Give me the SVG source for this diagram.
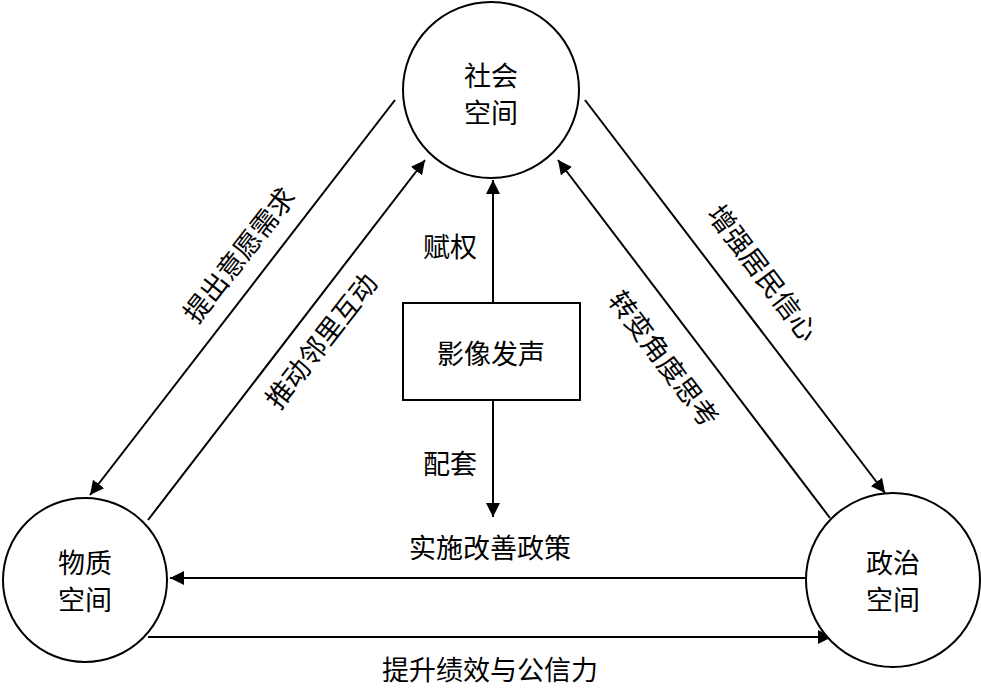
<svg xmlns="http://www.w3.org/2000/svg" width="981" height="692" viewBox="0 0 981 692">
<style>
text{font-family:"Noto Sans CJK SC",sans-serif;font-size:27px;fill:#000;text-anchor:middle;dominant-baseline:central}
.n{fill:#fff;stroke:#000;stroke-width:2}
.c line{stroke:#000;stroke-width:2;marker-end:url(#b)}
</style>
<defs><marker id="b" viewBox="0 0 10 10" refX="10" refY="5" markerWidth="14" markerHeight="14" orient="auto" markerUnits="userSpaceOnUse"><path d="M0,0L10,5L0,10z" fill="#000"/></marker></defs>
<rect width="981" height="692" fill="#fff"/>
<g class="c">
<line x1="395" y1="100" x2="90" y2="495"/>
<line x1="148" y1="520" x2="425" y2="160"/>
<line x1="585" y1="100" x2="885" y2="493"/>
<line x1="830" y1="518" x2="558" y2="160"/>
<line x1="493" y1="303" x2="493" y2="180"/>
<line x1="493" y1="400" x2="493" y2="517"/>
<line x1="808" y1="578" x2="170" y2="578"/>
<line x1="148" y1="637" x2="832" y2="637"/>
</g>
<g id="social"><circle class="n" cx="491" cy="90" r="88"/><text x="491" y="74">社会</text><text x="491" y="111">空间</text></g>
<g id="physical"><circle class="n" cx="85" cy="580" r="82"/><text x="85" y="561">物质</text><text x="85" y="598">空间</text></g>
<g id="political"><circle class="n" cx="893" cy="580" r="87"/><text x="893" y="561">政治</text><text x="893" y="598">空间</text></g>
<g id="box"><rect class="n" x="403" y="303" width="177" height="97"/><text x="491" y="352">影像发声</text></g>
<text transform="translate(238,254) rotate(-52)">提出意愿需求</text>
<text transform="translate(320,340) rotate(-52)">推动邻里互动</text>
<text transform="translate(764,272) rotate(53)">增强居民信心</text>
<text transform="translate(665,358) rotate(53)">转变角度思考</text>
<text x="450" y="245">赋权</text>
<text x="450" y="462">配套</text>
<text x="490" y="546">实施改善政策</text>
<text x="490" y="668">提升绩效与公信力</text>
</svg>
